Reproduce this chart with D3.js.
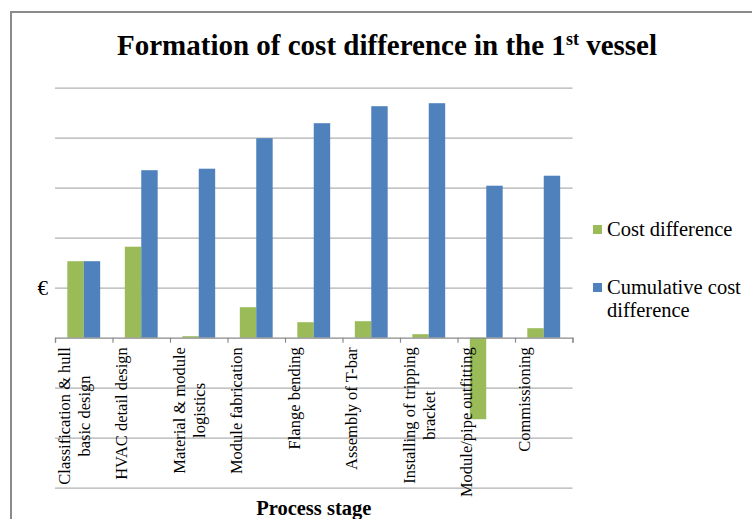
<!DOCTYPE html>
<html>
<head>
<meta charset="utf-8">
<script src="https://cdn.jsdelivr.net/npm/d3@7"></script>
<style>
  body { margin: 0; background: #fff; }
  svg text { font-family: "Liberation Serif", "Times New Roman", serif; }
  .grid line { stroke: #b0b0b0; stroke-width: 1.2; }
  .grid path { display: none; }
</style>
</head>
<body>
<div id="chart"></div>
<script>
// chart values
var categories = [
  "Classification & hull basic design",
  "HVAC detail design",
  "Material & module logistics",
  "Module fabrication",
  "Flange bending",
  "Assembly of T-bar",
  "Installing of tripping bracket",
  "Module/pipe outfitting",
  "Commissioning"
];
var labelLines = [
  ["Classification & hull", "basic design"],
  ["HVAC detail design"],
  ["Material & module", "logistics"],
  ["Module fabrication"],
  ["Flange bending"],
  ["Assembly of T-bar"],
  ["Installing of tripping", "bracket"],
  ["Module/pipe outfitting"],
  ["Commissioning"]
];
var costDifference = [1.53, 1.82, 0.03, 0.61, 0.31, 0.33, 0.07, -1.63, 0.19];
var cumulativeDifference = [1.53, 3.35, 3.38, 3.99, 4.29, 4.63, 4.69, 3.04, 3.24];
var seriesNames = ["Cost difference", "Cumulative cost difference"];
var seriesColors = ["#9bbb59", "#4f81bd"];
var yTicks = [-3, -2, -1, 0, 1, 2, 3, 4, 5];
var euroTick = 1;

var serif = "'Liberation Serif', 'Times New Roman', serif";

var svgWidth = 752;
var svgHeight = 519;

var plot = { left: 55, right: 572.5, top: 87.7, bottom: 487.7 };

var svg = d3.select("#chart")
  .append("svg")
  .attr("width", svgWidth)
  .attr("height", svgHeight)
  .attr("font-family", serif);

// outer chart frame
svg.append("rect")
  .attr("x", 11)
  .attr("y", 12)
  .attr("width", 800)
  .attr("height", 600)
  .attr("fill", "none")
  .attr("stroke", "#8a8a8a")
  .attr("stroke-width", 2);

// scales
var yScale = d3.scaleLinear()
  .domain([d3.min(yTicks), d3.max(yTicks)])
  .range([plot.bottom, plot.top]);

var x0 = d3.scaleBand()
  .domain(d3.range(categories.length))
  .range([plot.left, plot.right]);

var x1 = d3.scaleBand()
  .domain(d3.range(seriesNames.length))
  .range([0, x0.bandwidth()])
  .paddingInner(0)
  .paddingOuter(0.75);

var boundary = d3.scaleLinear()
  .domain([0, categories.length])
  .range([plot.left, plot.right]);

// gridlines
svg.append("g")
  .attr("class", "grid")
  .attr("transform", `translate(${plot.left},0)`)
  .call(d3.axisLeft(yScale)
    .tickValues(yTicks.filter(d => d !== 0))
    .tickSize(-(plot.right - plot.left))
    .tickFormat(""));

// bars
var rows = categories.map(function(c, i) {
  return [costDifference[i], cumulativeDifference[i]];
});

var groups = svg.selectAll(".cat")
  .data(rows)
  .enter()
  .append("g")
  .attr("transform", (d, i) => `translate(${x0(i)},0)`);

groups.selectAll("rect")
  .data(d => d)
  .enter()
  .append("rect")
  .attr("x", (d, j) => x1(j))
  .attr("width", x1.bandwidth())
  .attr("y", d => yScale(Math.max(0, d)))
  .attr("height", d => Math.abs(yScale(d) - yScale(0)))
  .attr("fill", (d, j) => seriesColors[j]);

// category axis at zero
var xAxis = svg.append("g")
  .attr("transform", `translate(0,${yScale(0)})`)
  .call(d3.axisBottom(boundary)
    .tickValues(d3.range(categories.length + 1))
    .tickSize(5)
    .tickFormat(""));
xAxis.select("path").attr("stroke", "#8a8a8a").attr("stroke-width", 1.2);
xAxis.selectAll("line").attr("stroke", "#8a8a8a").attr("stroke-width", 1.2);

// rotated category labels
var labelTop = yScale(0) + 9.5;
var lineStep = 20;

labelLines.forEach(function(lines, i) {
  var g = svg.append("g");
  var texts = lines.map(function(line, k) {
    return g.append("text")
      .attr("font-family", serif)
      .attr("font-size", "16.5px")
      .attr("fill", "#000")
      .text(line);
  });
  var longest = d3.max(texts, t => t.node().getComputedTextLength());
  texts.forEach(function(t, k) {
    var bx = boundary(i) + 14.5 + k * lineStep;
    var cy = labelTop + longest / 2;
    t.attr("text-anchor", "middle")
      .attr("transform", `translate(${bx},${cy}) rotate(-90)`);
  });
});

// euro label
svg.append("text")
  .attr("x", 48)
  .attr("y", yScale(euroTick) + 7)
  .attr("text-anchor", "end")
  .attr("font-family", serif)
  .attr("font-size", "21px")
  .text("€");

// title
var title = svg.append("text")
  .attr("x", 387)
  .attr("y", 55)
  .attr("text-anchor", "middle")
  .attr("font-family", serif)
  .attr("font-size", "29px")
  .attr("font-weight", "bold");
title.append("tspan").text("Formation  of cost difference in the 1");
title.append("tspan").attr("font-size", "18px").attr("dy", -10).text("st");
title.append("tspan").attr("dy", 10).text(" vessel");

// axis title
svg.append("text")
  .attr("x", (plot.left + plot.right) / 2)
  .attr("y", 515)
  .attr("text-anchor", "middle")
  .attr("font-family", serif)
  .attr("font-size", "20.5px")
  .attr("font-weight", "bold")
  .text("Process stage");

// legend
var legendItems = [
  { lines: ["Cost difference"], y: 229.5 },
  { lines: ["Cumulative cost", "difference"], y: 287.5 }
];

legendItems.forEach(function(item, i) {
  svg.append("rect")
    .attr("x", 593)
    .attr("y", item.y - 4.5)
    .attr("width", 9)
    .attr("height", 9)
    .attr("fill", seriesColors[i]);
  item.lines.forEach(function(line, k) {
    svg.append("text")
      .attr("x", 607)
      .attr("y", item.y + 6.5 + k * 23)
      .attr("font-family", serif)
      .attr("font-size", "20.5px")
      .text(line);
  });
});
</script>
</body>
</html>
